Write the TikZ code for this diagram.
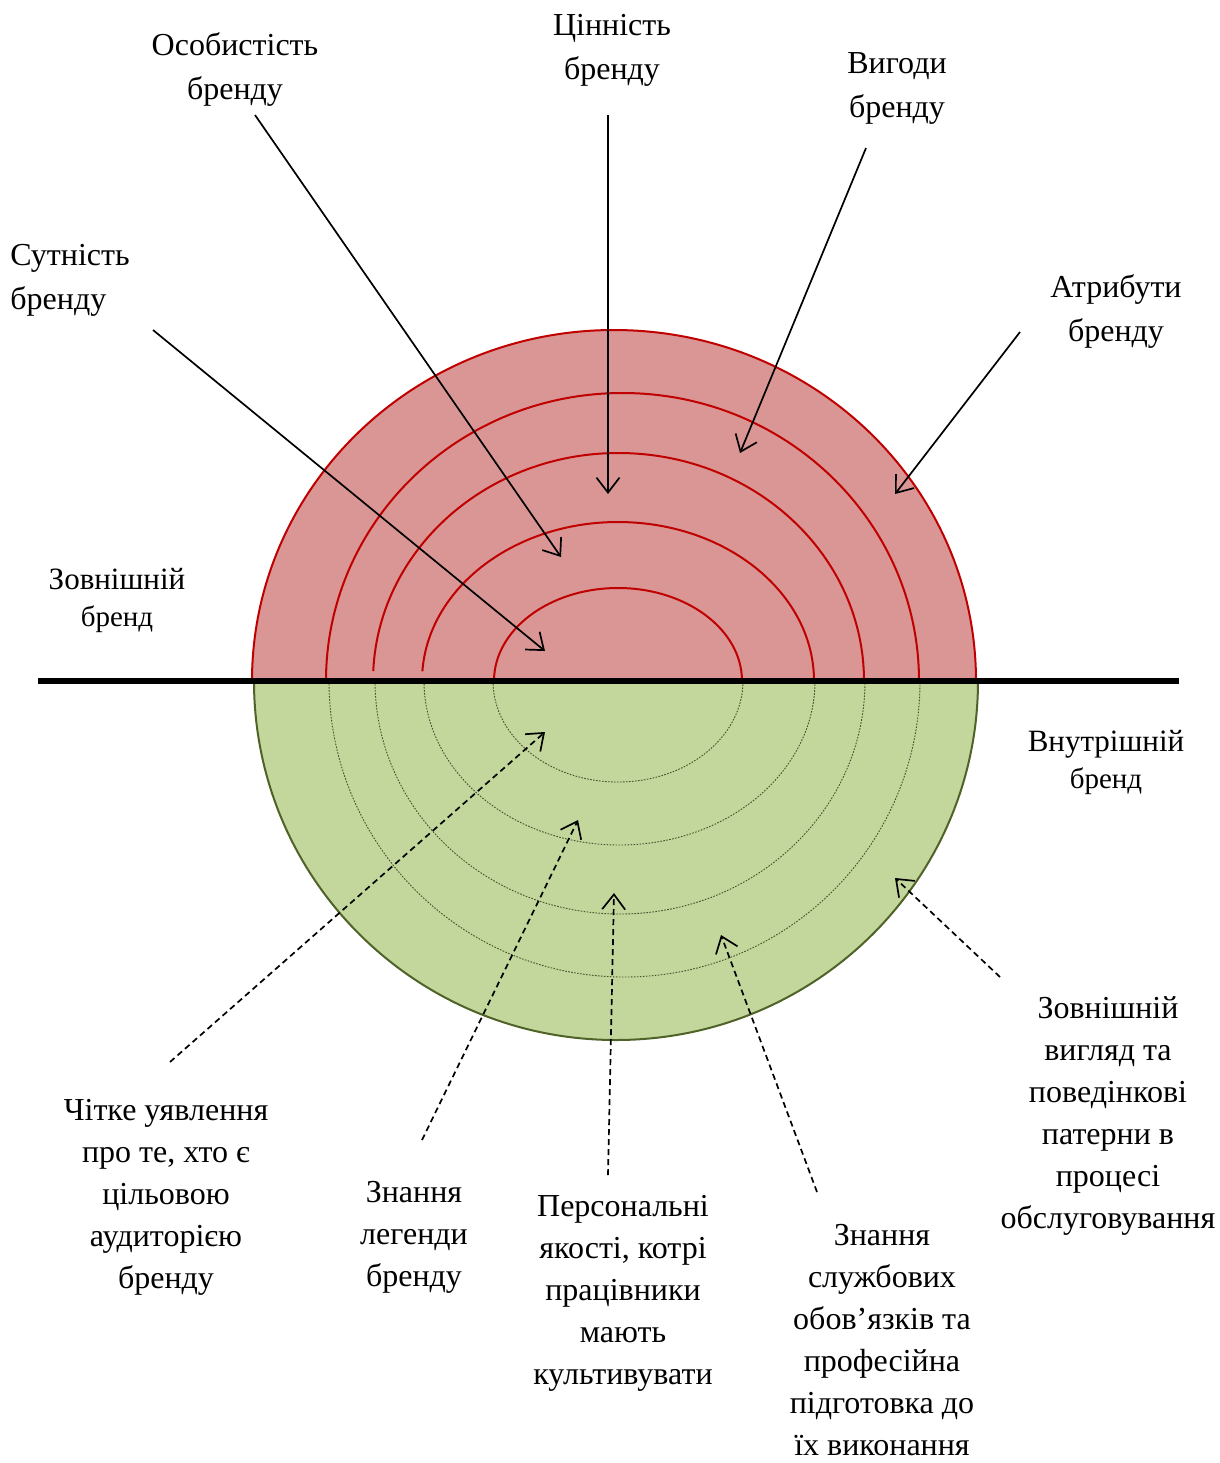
\documentclass[tikz,border=0pt]{standalone}
\usepackage{fontspec}
\setmainfont{Liberation Serif}
\usetikzlibrary{arrows.meta}
\definecolor{extfill}{HTML}{D99694}
\definecolor{extline}{HTML}{C00000}
\definecolor{intfill}{HTML}{C3D69B}
\definecolor{intline}{HTML}{4F6228}
\definecolor{intdot}{HTML}{44502E}

\begin{document}
\begin{tikzpicture}[x=0.5pt,y=-0.5pt,
  toplbl/.style={align=center,inner sep=0pt,font=\fontsize{16pt}{22pt}\selectfont},
  botlbl/.style={align=center,inner sep=0pt,font=\fontsize{16pt}{21pt}\selectfont},
  sidelbl/.style={align=center,inner sep=0pt,font=\fontsize{15.5pt}{18.5pt}\selectfont},
  ring/.style={draw=extline,line width=1pt},
  dotring/.style={draw=intdot,line width=0.45pt,dash pattern=on 0.8pt off 0.7pt},
  solidarrow/.style={draw=black,line width=0.85pt,-{Straight Barb[length=7.5pt,width=11.5pt]}},
  dasharrow/.style={solidarrow,dash pattern=on 3pt off 2pt}]

\path[fill=white,use as bounding box] (0,0) rectangle (1220,1463);

% internal brand: lower half-ellipse with dotted rings
\filldraw[fill=intfill,draw=intline,line width=1pt]
  (254,681) arc[start angle=180,end angle=360,x radius=181pt,y radius=179.5pt] -- cycle;
\draw[dotring] (329,681) arc[start angle=180,end angle=360,x radius=147.75pt,y radius=148pt];
\draw[dotring] (375,681) arc[start angle=180,end angle=360,x radius=122.5pt,y radius=116.5pt];
\draw[dotring] (424,681) arc[start angle=180,end angle=360,x radius=97.75pt,y radius=82pt];
\draw[dotring] (493,681) arc[start angle=180,end angle=360,x radius=62.5pt,y radius=50.5pt];

% external brand: upper half-ellipse with rings
\filldraw[fill=extfill,draw=extline,line width=1pt]
  (252,681) arc[start angle=180,end angle=0,x radius=181pt,y radius=175.5pt] -- cycle;
\draw[ring] (326,681) arc[start angle=180,end angle=0,x radius=148.25pt,y radius=144pt];
\draw[ring] (618.5,681) ++(177.5:122.75pt and 114pt)
  arc[start angle=177.5,end angle=0,x radius=122.75pt,y radius=114pt];
\draw[ring] (618,681) ++(176.5:98pt and 79.5pt)
  arc[start angle=176.5,end angle=0,x radius=98pt,y radius=79.5pt];
\draw[ring] (494,681) arc[start angle=180,end angle=0,x radius=62pt,y radius=46.5pt];

% dividing line
\coordinate (lineL) at (38,681);
\coordinate (lineR) at (1179,681);
\draw[line width=3pt] (lineL) -- (lineR);

% labels
\node[toplbl,anchor=west,align=left] (ess) at (10,280) {Сутність\\бренду};
\node[toplbl] (pers) at (235,69) {Особистість\\бренду};
\node[toplbl] (val) at (612,50) {Цінність\\бренду};
\node[toplbl] (ben) at (897,88) {Вигоди\\бренду};
\node[toplbl] (attr) at (1116,311) {Атрибути\\бренду};
\node[sidelbl] (ext) at (117,600) {Зовнішній\\{\fontsize{14.5pt}{18.5pt}\selectfont бренд}};
\node[sidelbl] (int) at (1106,762) {Внутрішній\\{\fontsize{14.5pt}{18.5pt}\selectfont бренд}};
\node[botlbl] (aud) at (166,1197) {Чітке уявлення\\про те, хто є\\цільовою\\аудиторією\\бренду};
\node[botlbl] (leg) at (414,1237) {Знання\\легенди\\бренду};
\node[botlbl] (qual) at (623,1293) {Персональні\\якості, котрі\\працівники\\мають\\культивувати};
\node[botlbl] (duty) at (882,1340) {Знання\\службових\\обов’язків та\\професійна\\підготовка до\\їх виконання};
\node[botlbl] (look) at (1108,1116) {Зовнішній\\вигляд та\\поведінкові\\патерни в\\процесі\\обслуговування};

% arrow end points
\coordinate (s1) at (153,330);  \coordinate (e1) at (545,651);
\coordinate (s2) at (255,115);  \coordinate (e2) at (561,557);
\coordinate (s3) at (608,115);  \coordinate (e3) at (608,494);
\coordinate (s4) at (866,148);  \coordinate (e4) at (740,453);
\coordinate (s5) at (1020,332); \coordinate (e5) at (895,494);
\coordinate (d1) at (170,1062); \coordinate (f1) at (545,732);
\coordinate (d2) at (422,1140); \coordinate (f2) at (578,820);
\coordinate (d3) at (608,1175); \coordinate (f3) at (614,893);
\coordinate (d4) at (817,1192); \coordinate (f4) at (721,935);
\coordinate (d5) at (1000,977); \coordinate (f5) at (895,878);

\draw[solidarrow] (s1) -- (e1);
\draw[solidarrow] (s2) -- (e2);
\draw[solidarrow] (s3) -- (e3);
\draw[solidarrow] (s4) -- (e4);
\draw[solidarrow] (s5) -- (e5);
\draw[dasharrow] (d1) -- (f1);
\draw[dasharrow] (d2) -- (f2);
\draw[dasharrow] (d3) -- (f3);
\draw[dasharrow] (d4) -- (f4);
\draw[dasharrow] (d5) -- (f5);
\end{tikzpicture}
\end{document}
